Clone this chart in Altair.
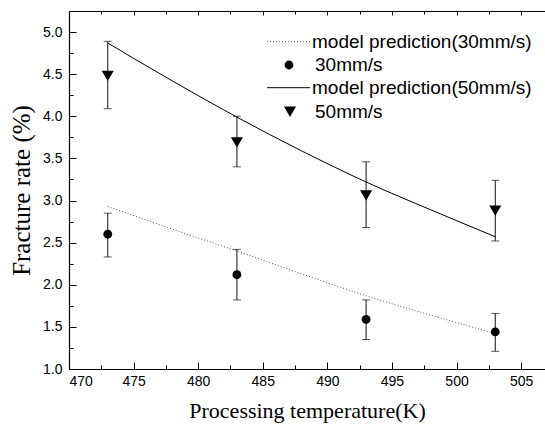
import altair as alt
import pandas as pd

# ---- data ----
temps = [473, 483, 493, 503]
rate_30 = [2.60, 2.12, 1.59, 1.44]
err_30_low = [2.33, 1.82, 1.35, 1.21]
err_30_high = [2.85, 2.42, 1.82, 1.66]
rate_50 = [4.48, 3.69, 3.06, 2.88]
err_50_low = [4.09, 3.40, 2.68, 2.52]
err_50_high = [4.89, 4.00, 3.46, 3.24]

model_temps = [473, 478, 483, 488, 493, 498, 503]
model_30 = [2.93, 2.66, 2.40, 2.13, 1.87, 1.64, 1.42]
model_50 = [4.87, 4.42, 3.99, 3.59, 3.22, 2.89, 2.57]

legend_labels = ["model prediction(30mm/s)", "30mm/s",
                 "model prediction(50mm/s)", "50mm/s"]

x_major = [470, 475, 480, 485, 490, 495, 500, 505]
x_minor = [472.5, 477.5, 482.5, 487.5, 492.5, 497.5, 502.5]
y_major = [1.0, 1.5, 2.0, 2.5, 3.0, 3.5, 4.0, 4.5, 5.0]
y_minor = [1.25, 1.75, 2.25, 2.75, 3.25, 3.75, 4.25, 4.75]

X_DOM = [470, 506.85]
Y_DOM = [1.0, 5.25]

pts = pd.DataFrame({
    "temp": temps, "r30": rate_30, "lo30": err_30_low, "hi30": err_30_high,
    "r50": rate_50, "lo50": err_50_low, "hi50": err_50_high,
})
mdl = pd.DataFrame({"temp": model_temps, "m30": model_30, "m50": model_50})
leg = pd.DataFrame({"label": legend_labels})

TICK_FONT = "Liberation Sans"
TITLE_FONT = "Liberation Serif"


def xs():
    return alt.Scale(domain=X_DOM, nice=False, zero=False)


def ys():
    return alt.Scale(domain=Y_DOM, nice=False, zero=False)


def ax(orient, **kw):
    base = dict(orient=orient, grid=False, domainColor="black", tickColor="black",
                labelColor="black", titleColor="black", labelFont=TICK_FONT,
                labelFontSize=14, titleFont=TITLE_FONT, titleFontWeight="normal")
    base.update(kw)
    return alt.Axis(**base)


base = alt.Chart(pts)

# axes: major ticks + labels + titles
axis_major = base.mark_point(opacity=0).encode(
    x=alt.X("temp:Q", scale=xs(), axis=ax(
        "bottom", values=x_major, tickSize=7, offset=-7, domain=False,
        labelPadding=5, title="Processing temperature(K)", titleFontSize=22,
        titlePadding=12)),
    y=alt.Y("r30:Q", scale=ys(), axis=ax(
        "left", values=y_major, tickSize=7, offset=-7, domain=False,
        labelPadding=7, format=".1f", title="Fracture rate (%)", titleFontSize=25,
        titlePadding=8)),
)
axis_minor = base.mark_point(opacity=0).encode(
    x=alt.X("temp:Q", scale=xs(), axis=ax(
        "bottom", values=x_minor, tickSize=4, offset=-4, domain=False,
        labels=False, title=None)),
    y=alt.Y("r30:Q", scale=ys(), axis=ax(
        "left", values=y_minor, tickSize=4, offset=-4, domain=False,
        labels=False, title=None)),
)
axis_domain = base.mark_point(opacity=0).encode(
    x=alt.X("temp:Q", scale=xs(), axis=ax(
        "bottom", ticks=False, labels=False, domain=True, domainWidth=1.2, title=None)),
    y=alt.Y("r30:Q", scale=ys(), axis=ax(
        "left", ticks=False, labels=False, domain=True, domainWidth=1.2, title=None)),
)
top_major = base.mark_point(opacity=0).encode(
    x=alt.X("temp:Q", scale=xs(), axis=ax(
        "top", values=x_major, tickSize=4, offset=-4, domain=False,
        labels=False, title=None)),
    y=alt.Y("r30:Q", scale=ys(), axis=None),
)
top_minor = base.mark_point(opacity=0).encode(
    x=alt.X("temp:Q", scale=xs(), axis=ax(
        "top", values=x_minor, tickSize=3, offset=-3, domain=False,
        labels=False, title=None)),
    y=alt.Y("r30:Q", scale=ys(), axis=None),
)
top_domain = base.mark_point(opacity=0).encode(
    x=alt.X("temp:Q", scale=xs(), axis=ax(
        "top", ticks=False, labels=False, domain=True, domainWidth=1.2, title=None)),
    y=alt.Y("r30:Q", scale=ys(), axis=None),
)

# model lines
line30 = alt.Chart(mdl).mark_line(color="#555555", strokeWidth=1, strokeDash=[1, 2],
                                  interpolate="monotone").encode(
    x=alt.X("temp:Q", scale=xs(), axis=None),
    y=alt.Y("m30:Q", scale=ys(), axis=None),
)
line50 = alt.Chart(mdl).mark_line(color="black", strokeWidth=1,
                                  interpolate="monotone").encode(
    x=alt.X("temp:Q", scale=xs(), axis=None),
    y=alt.Y("m50:Q", scale=ys(), axis=None),
)


def errbars(lo, hi):
    rule = base.mark_rule(color="#111111", strokeWidth=1).encode(
        x=alt.X("temp:Q", scale=xs(), axis=None),
        y=alt.Y(f"{lo}:Q", scale=ys(), axis=None),
        y2=f"{hi}:Q",
    )
    cap_lo = base.mark_tick(color="#111111", orient="horizontal", size=8, thickness=1).encode(
        x=alt.X("temp:Q", scale=xs(), axis=None),
        y=alt.Y(f"{lo}:Q", scale=ys(), axis=None),
    )
    cap_hi = base.mark_tick(color="#111111", orient="horizontal", size=8, thickness=1).encode(
        x=alt.X("temp:Q", scale=xs(), axis=None),
        y=alt.Y(f"{hi}:Q", scale=ys(), axis=None),
    )
    return [rule, cap_lo, cap_hi]


pts30 = base.mark_point(shape="circle", filled=True, color="black", size=78, opacity=1).encode(
    x=alt.X("temp:Q", scale=xs(), axis=None),
    y=alt.Y("r30:Q", scale=ys(), axis=None),
)
pts50 = base.mark_point(shape="triangle-down", filled=True, color="black", size=145, opacity=1).encode(
    x=alt.X("temp:Q", scale=xs(), axis=None),
    y=alt.Y("r50:Q", scale=ys(), axis=None),
)

# legend (drawn by hand)
row_y = [30.7, 54.0, 76.7, 100.7]
text_x = [243, 246, 243, 246]
legend_layers = []
for i, lab in enumerate(legend_labels):
    one = alt.Chart(leg).transform_filter(alt.datum.label == lab)
    legend_layers.append(one.mark_text(align="left", baseline="middle", font=TICK_FONT,
                                       fontSize=19, color="black").encode(
        x=alt.value(text_x[i]), y=alt.value(row_y[i]), text="label:N"))
leg30 = alt.Chart(leg).transform_filter(alt.datum.label == legend_labels[0])
leg50 = alt.Chart(leg).transform_filter(alt.datum.label == legend_labels[2])
legend_layers.append(leg30.mark_rule(color="#555555", strokeWidth=1, strokeDash=[1, 2]).encode(
    x=alt.value(198), x2=alt.value(241), y=alt.value(row_y[0])))
legend_layers.append(leg50.mark_rule(color="black", strokeWidth=1).encode(
    x=alt.value(198), x2=alt.value(241), y=alt.value(row_y[2])))
legend_layers.append(leg30.mark_point(shape="circle", filled=True, color="black", size=78, opacity=1).encode(
    x=alt.value(220), y=alt.value(row_y[1])))
legend_layers.append(leg50.mark_point(shape="triangle-down", filled=True, color="black", size=145, opacity=1).encode(
    x=alt.value(221), y=alt.value(row_y[3])))

layers = [axis_major, axis_minor, axis_domain, top_major, top_minor, top_domain,
          line30, line50] + errbars("lo30", "hi30") + errbars("lo50", "hi50") + \
         [pts30, pts50] + legend_layers

chart = alt.layer(*layers).resolve_scale(x="independent", y="independent").properties(
    width=476, height=358,
    autosize=alt.AutoSizeParams(type="none"),
    padding={"left": 69, "top": 11, "right": 0, "bottom": 59},
    background="white",
).configure_view(stroke=None)

chart.save("out.html", embed_options={"renderer": "svg", "actions": False})
